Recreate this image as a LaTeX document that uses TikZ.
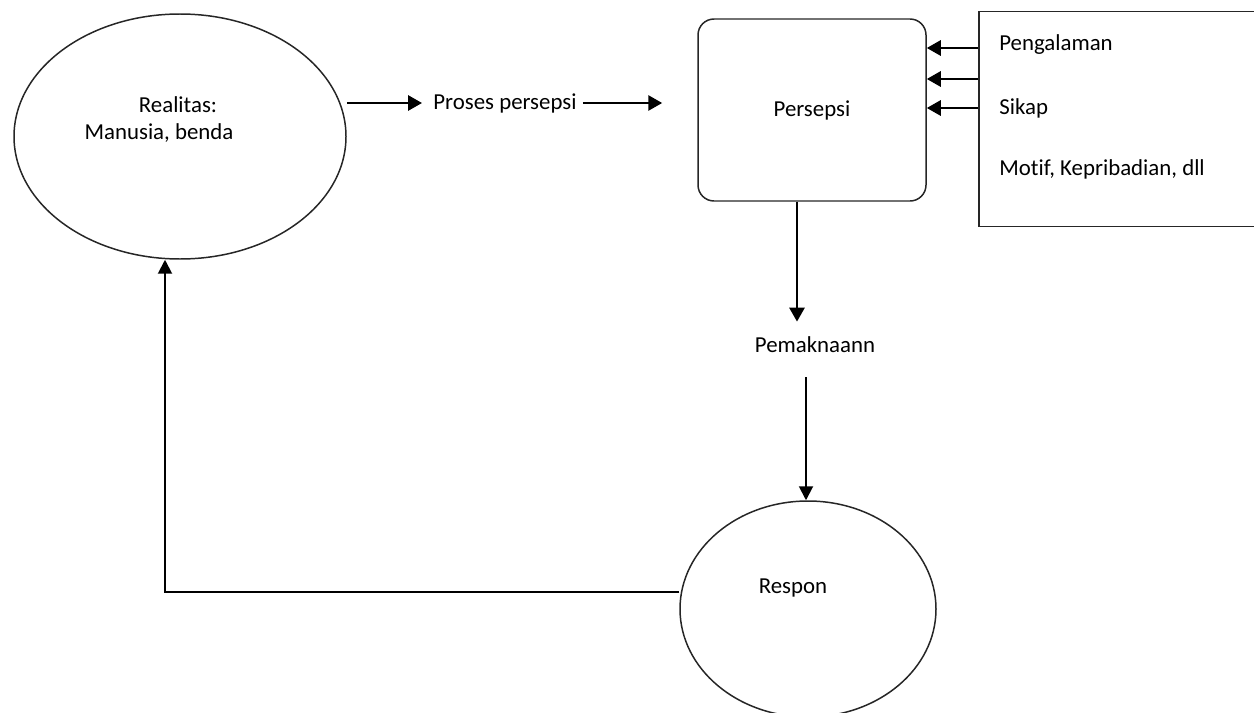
\documentclass[tikz,border=0pt]{standalone}
\usepackage{fontspec}
\setmainfont[Ligatures=NoCommon]{Carlito}
\usetikzlibrary{shapes.geometric,arrows.meta}

\begin{document}
\begin{tikzpicture}[
  lbl/.style={inner sep=0pt,font=\fontsize{13}{15}\selectfont},
  shp/.style={draw=black!85,line width=0.85pt},
  thickarr/.style={line width=1.6pt,-{Triangle[length=0.28cm,width=0.3cm]}},
  thinarr/.style={line width=1.1pt,-{Triangle[length=0.28cm,width=0.28cm]}}]
\useasboundingbox (0,0) rectangle (25.08,-14.26);

\node[shp,ellipse,minimum width=6.64cm,minimum height=4.9cm] (realitas) at (3.6,-2.73) {};
\node[lbl] (realitas1) at (3.56,-2.1) {Realitas:};
\node[lbl] (realitas2) at (3.18,-2.66) {Manusia, benda};
\node[lbl] (proses) at (10.1,-2.06) {Proses persepsi};
\node[shp,lbl,rounded corners=0.32cm,minimum width=4.56cm,minimum height=3.64cm] (persepsi) at (16.24,-2.2) {Persepsi};

% faktor yang mempengaruhi
\node[shp,anchor=north west,minimum width=5.8cm,minimum height=4.3cm] (faktor) at (19.56,-0.22) {};
\node[lbl,anchor=base west] (pengalaman) at (19.98,-1.01) {Pengalaman};
\node[lbl,anchor=base west] (sikap) at (19.98,-2.28) {Sikap};
\node[lbl,anchor=base west] (motif) at (19.98,-3.51) {Motif, Kepribadian, dll};

\node[lbl] (pemaknaan) at (16.3,-6.9) {Pemaknaann};
\node[shp,ellipse,minimum width=5.12cm,minimum height=4.32cm] (respon) at (16.16,-12.18) {};
\node[lbl] (respontxt) at (15.86,-11.76) {Respon};

\draw[thickarr] (realitas.east |- proses.west) -- ([xshift=-0.22cm]proses.west);
\draw[thickarr] ([xshift=0.12cm]proses.east) -- ([xshift=-0.7cm]persepsi.west |- proses.east);
\foreach \y in {0.96,1.58,2.16}
  \draw[thickarr] (faktor.west |- 0,-\y) -- (persepsi.east |- 0,-\y);
\draw[thickarr,shorten >=0.3cm] ([xshift=-0.3cm]persepsi.south) -- ([xshift=-0.3cm]persepsi.south |- pemaknaan.north);
\draw[thinarr,shorten <=0.48cm] ([xshift=-0.18cm]pemaknaan.south) -- ([xshift=-0.18cm]pemaknaan.south |- respon.north);
\draw[thinarr] ([yshift=0.34cm]respon.west) -| ([xshift=-0.3cm]realitas.south);
\end{tikzpicture}
\end{document}
